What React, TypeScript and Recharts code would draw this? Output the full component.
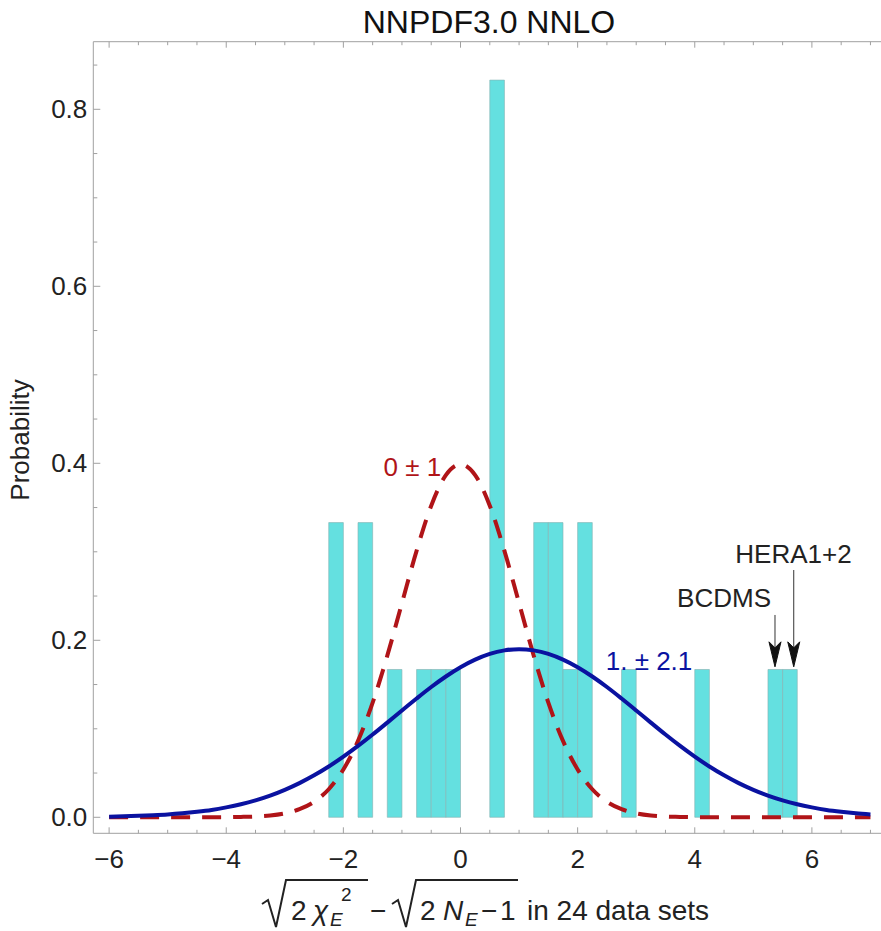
import React from 'react'
import { ComposedChart, Line, XAxis, YAxis, ReferenceArea, ReferenceDot, ReferenceLine } from 'recharts'

const FONT = '"Liberation Sans", Arial, sans-serif'

// histogram bins (left edge) and heights, bin width 0.25
const binStarts = [-2.25, -1.75, -1.25, -0.75, -0.5, -0.25, 0.5, 1.25, 1.5, 1.75, 2.0, 2.75, 4.0, 5.25, 5.5]
const binHeights = [0.333, 0.333, 0.167, 0.167, 0.167, 0.167, 0.833, 0.333, 0.333, 0.167, 0.333, 0.167, 0.167, 0.167, 0.167]
const binWidth = 0.25

// curve sample points
const xs = [
  -6, -5.75, -5.5, -5.25, -5, -4.75, -4.5, -4.25, -4, -3.75, -3.5, -3.25, -3, -2.75, -2.5, -2.25, -2, -1.75, -1.5, -1.25,
  -1, -0.75, -0.5, -0.25, 0, 0.25, 0.5, 0.75, 1, 1.25, 1.5, 1.75, 2, 2.25, 2.5, 2.75, 3, 3.25, 3.5, 3.75, 4, 4.25, 4.5,
  4.75, 5, 5.25, 5.5, 5.75, 6, 6.25, 6.5, 6.75, 7,
]
// "0 ± 1" curve
const redCurve = [
  0, 0, 0, 0, 0, 0, 0, 0, 0.0001, 0.0004, 0.0009, 0.002, 0.0044, 0.0091, 0.0175, 0.0317, 0.054, 0.0863, 0.1295, 0.1826,
  0.242, 0.3011, 0.3521, 0.3867, 0.3989, 0.3867, 0.3521, 0.3011, 0.242, 0.1826, 0.1295, 0.0863, 0.054, 0.0317, 0.0175,
  0.0091, 0.0044, 0.002, 0.0009, 0.0004, 0.0001, 0, 0, 0, 0, 0, 0, 0, 0, 0, 0, 0, 0,
]
// "1. ± 2.1" curve
const blueCurve = [
  0.0007, 0.0011, 0.0016, 0.0023, 0.0032, 0.0045, 0.0062, 0.0083, 0.0112, 0.0147, 0.0191, 0.0245, 0.031, 0.0386, 0.0474,
  0.0574, 0.0685, 0.0806, 0.0935, 0.107, 0.1207, 0.1342, 0.1472, 0.1591, 0.1696, 0.1782, 0.1847, 0.1886, 0.19, 0.1886,
  0.1847, 0.1782, 0.1696, 0.1591, 0.1472, 0.1342, 0.1207, 0.107, 0.0935, 0.0806, 0.0685, 0.0574, 0.0474, 0.0386, 0.031,
  0.0245, 0.0191, 0.0147, 0.0112, 0.0083, 0.0062, 0.0045, 0.0032,
]

const xTicks = [-6, -5.5, -5, -4.5, -4, -3.5, -3, -2.5, -2, -1.5, -1, -0.5, 0, 0.5, 1, 1.5, 2, 2.5, 3, 3.5, 4, 4.5, 5, 5.5, 6, 6.5, 7]
const xMajor = [-6, -4, -2, 0, 2, 4, 6]
const yTicks = [0, 0.05, 0.1, 0.15, 0.2, 0.25, 0.3, 0.35, 0.4, 0.45, 0.5, 0.55, 0.6, 0.65, 0.7, 0.75, 0.8, 0.85]
const yMajor = [0, 0.2, 0.4, 0.6, 0.8]

const curveData = xs.map((x, i) => ({ x, red: redCurve[i], blue: blueCurve[i] }))

const isMajor = (list: number[], v: number) => list.some(m => Math.abs(m - v) < 1e-6)
const fmtX = (v: number) => (v < 0 ? '\u2212' + Math.abs(v) : String(v))

const AXIS = '#a0a0a0'
const INK = '#222'

function BottomTick(p: any) {
  const v = p.payload.value
  const major = isMajor(xMajor, v)
  return (
    <g>
      <line x1={p.x} x2={p.x} y1={p.y} y2={p.y - (major ? 6 : 3.5)} stroke={AXIS} strokeWidth={1} />
      {major && (
        <text x={p.x} y={p.y + 35} textAnchor="middle" fontSize={26} fontFamily={FONT} fill={INK}>
          {fmtX(v)}
        </text>
      )}
    </g>
  )
}

function TopTick(p: any) {
  const major = isMajor(xMajor, p.payload.value)
  return <line x1={p.x} x2={p.x} y1={p.y} y2={p.y + (major ? 6 : 3.5)} stroke={AXIS} strokeWidth={1} />
}

function LeftTick(p: any) {
  const v = p.payload.value
  const major = isMajor(yMajor, v)
  return (
    <g>
      <line x1={p.x} x2={p.x + (major ? 7 : 4)} y1={p.y} y2={p.y} stroke={AXIS} strokeWidth={1} />
      {major && (
        <text x={p.x - 6} y={p.y + 9} textAnchor="end" fontSize={26} fontFamily={FONT} fill={INK}>
          {v.toFixed(1)}
        </text>
      )}
    </g>
  )
}

const textShape = (label: string, color: string, anchor: 'start' | 'middle' | 'end') => (p: any) => (
  <text x={p.cx} y={p.cy} textAnchor={anchor} fontSize={26} fontFamily={FONT} fill={color}>
    {label}
  </text>
)

const arrowHead = (p: any) => (
  <path
    d={`M${p.cx},${p.cy} L${p.cx - 6},${p.cy - 25} L${p.cx},${p.cy - 19} L${p.cx + 6},${p.cy - 25} Z`}
    fill="#111"
    stroke="#111"
    strokeWidth={1}
  />
)

export default function App() {
  return (
    <div style={{ position: 'absolute', left: 0, top: 0, width: 881, height: 931, background: '#fff' }}>
      <ComposedChart width={881} height={931} data={curveData} margin={{ top: 0, right: 0, bottom: 0, left: 0 }}>
        <XAxis
          dataKey="x"
          type="number"
          domain={[-6.27, 7.18]}
          allowDataOverflow
          ticks={xTicks}
          interval={0}
          height={97.7}
          tickSize={0}
          tickMargin={0}
          tickLine={false}
          axisLine={{ stroke: AXIS }}
          tick={(p: any) => <BottomTick {...p} />}
        />
        <XAxis
          xAxisId="top"
          orientation="top"
          dataKey="x"
          type="number"
          domain={[-6.27, 7.18]}
          allowDataOverflow
          ticks={xTicks}
          interval={0}
          height={41.7}
          tickSize={0}
          tickMargin={0}
          tickLine={false}
          axisLine={{ stroke: AXIS }}
          tick={(p: any) => <TopTick {...p} />}
        />
        <YAxis
          type="number"
          domain={[-0.0181, 0.8764]}
          allowDataOverflow
          ticks={yTicks}
          interval={0}
          width={93.3}
          tickSize={0}
          tickMargin={0}
          tickLine={false}
          axisLine={{ stroke: AXIS }}
          tick={(p: any) => <LeftTick {...p} />}
        />
        {binStarts.map((b, i) => (
          <ReferenceArea
            key={b}
            x1={b}
            x2={b + binWidth}
            y1={0}
            y2={binHeights[i]}
            fill="#64e0e0"
            fillOpacity={1}
            stroke="#86b4b4"
            strokeWidth={0.8}
            strokeOpacity={0.8}
          />
        ))}
        <Line
          dataKey="red"
          type="monotone"
          stroke="#b01418"
          strokeWidth={4}
          strokeDasharray="19 12"
          dot={false}
          isAnimationActive={false}
        />
        <Line dataKey="blue" type="monotone" stroke="#0a12a0" strokeWidth={4} dot={false} isAnimationActive={false} />
        <ReferenceDot x={-0.33} y={0.386} r={0} shape={textShape('0 \u00b1 1', '#b01418', 'end')} />
        <ReferenceDot x={2.48} y={0.166} r={0} shape={textShape('1. \u00b1 2.1', '#0a12a0', 'start')} />
        <ReferenceDot x={4.5} y={0.2376} r={0} shape={textShape('BCDMS', INK, 'middle')} />
        <ReferenceDot x={5.685} y={0.2873} r={0} shape={textShape('HERA1+2', INK, 'middle')} />
        <ReferenceLine segment={[{ x: 5.37, y: 0.2286 }, { x: 5.37, y: 0.19 }]} stroke="#333" strokeWidth={1} />
        <ReferenceLine segment={[{ x: 5.69, y: 0.2794 }, { x: 5.69, y: 0.19 }]} stroke="#333" strokeWidth={1} />
        <ReferenceDot x={5.37} y={0.17} r={0} shape={arrowHead} />
        <ReferenceDot x={5.69} y={0.17} r={0} shape={arrowHead} />
      </ComposedChart>
      <svg
        width={881}
        height={931}
        style={{ position: 'absolute', left: 0, top: 0, pointerEvents: 'none' }}
        fontFamily={FONT}
      >
        <text x={489} y={33} textAnchor="middle" fontSize={32} fill="#111">
          NNPDF3.0 NNLO
        </text>
        <text transform="translate(29,440) rotate(-90)" textAnchor="middle" fontSize={26} fill={INK}>
          Probability
        </text>
        <g fill={INK} fontSize={28}>
          <path d="M262,904 L268,900 L276,927 L286,880 L368,880" fill="none" stroke={INK} strokeWidth={2} />
          <text x={291} y={920}>2</text>
          <text x={313} y={920} fontStyle="italic">{'\u03c7'}</text>
          <text x={330} y={926} fontSize={19} fontStyle="italic">E</text>
          <text x={341} y={901} fontSize={19}>2</text>
          <text x={370} y={920}>{'\u2212'}</text>
          <path d="M392,904 L398,900 L406,927 L416,880 L518,880" fill="none" stroke={INK} strokeWidth={2} />
          <text x={420} y={920}>2</text>
          <text x={443} y={920} fontStyle="italic">N</text>
          <text x={465} y={926} fontSize={19} fontStyle="italic">E</text>
          <text x={481} y={920}>{'\u2212'}</text>
          <text x={500} y={920}>1</text>
          <text x={527} y={920}>in 24 data sets</text>
        </g>
      </svg>
    </div>
  )
}
